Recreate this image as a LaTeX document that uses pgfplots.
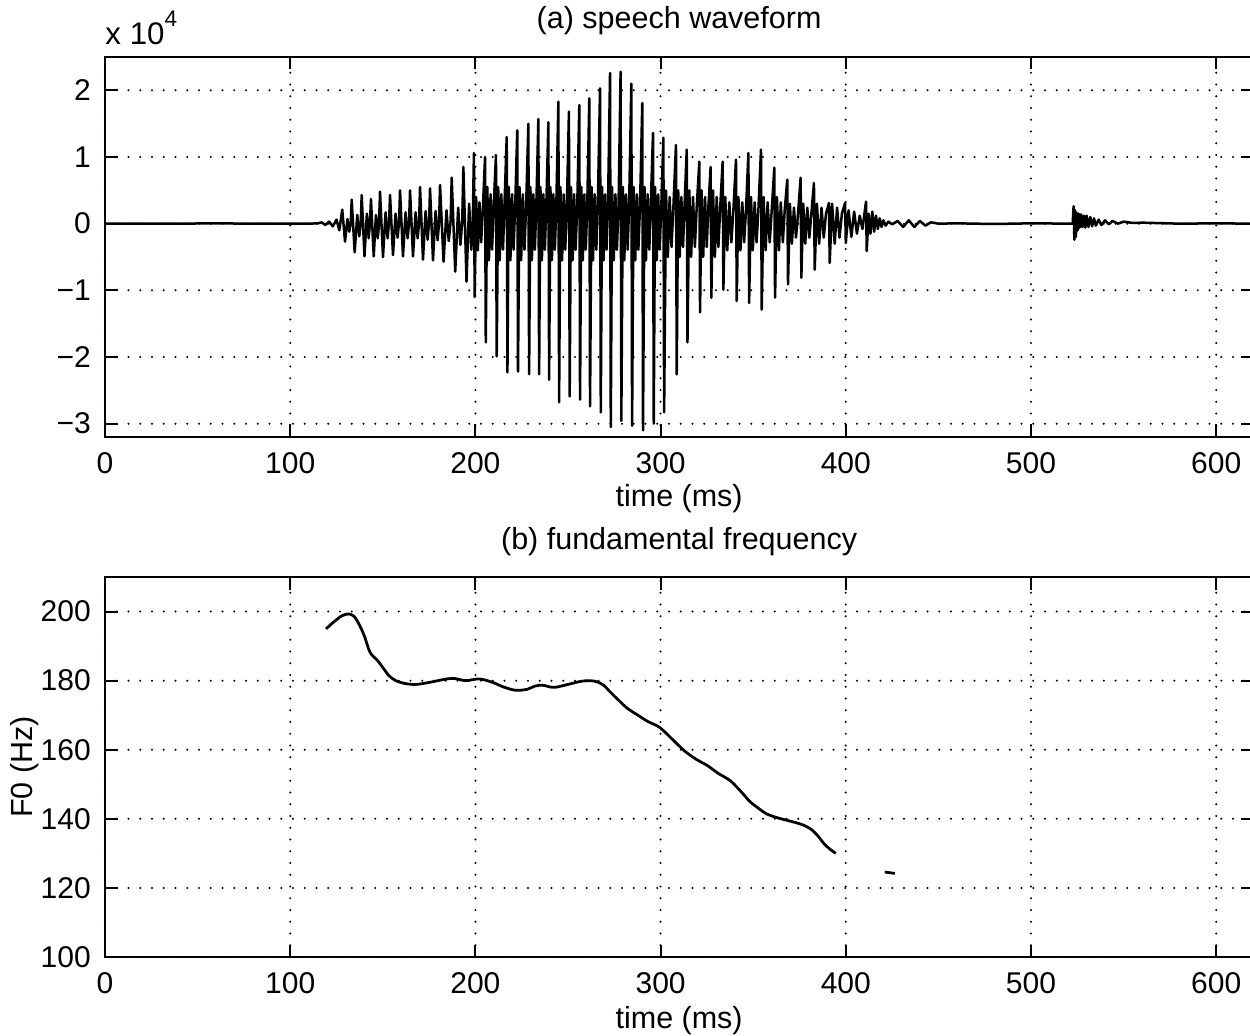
\documentclass[border=0pt]{standalone}
\usepackage{fontspec}
\setmainfont{Liberation Sans}
\usepackage{pgfplots}
\pgfplotsset{compat=1.18}
\pgfplotsset{
  matlab/.style={
    scale only axis, width=459.3pt, height=152pt,
    xmin=0, xmax=620,
    xtick={0,100,200,300,400,500,600},
    grid=major,
    major grid style={black, line width=0.9pt, line cap=round, dash pattern=on 0pt off 4.7pt},
    axis line style={black, line width=0.8pt},
    major tick length=5pt,
    tick style={black, line width=0.8pt},
    tick align=inside,
    /pgf/number format/assume math mode=true,
    ticklabel style={font=\fontsize{12}{14}\selectfont},
    xticklabel style={yshift=-2pt},
    yticklabel style={xshift=-1.5pt},
    label style={font=\fontsize{12.2}{14}\selectfont},
    title style={font=\fontsize{12.2}{14}\selectfont, at={(0.5,1)}, anchor=center},
    xlabel style={at={(axis description cs:0.5,0)}, anchor=center},
  }
}
\begin{document}
\fontsize{12}{14}\selectfont
\begin{tikzpicture}
\useasboundingbox (-42pt,-239.6pt) rectangle (458pt,174.8pt);
\begin{axis}[matlab, name=top, at={(0,0)}, anchor=south west,
  ymin=-3.2, ymax=2.5, ytick={-3,-2,-1,0,1,2},
  yticklabels={−3,−2,−1,0,1,2},
  title={(a) speech waveform}, title style={yshift=8.6pt},
  xlabel={time (ms)}, xlabel style={yshift=-24.8pt}]
\addplot[black, line width=1pt, line join=round] coordinates {
(0,0) (60,0.003) (110,0) (115,0.005) (117,0.02) (119,-0.02) (121,0.03) (123,-0.04) (125,0.06) (126.5,-0.1)
(128.1,0.21) (129.6,-0.27) (130.9,0.07) (131.9,-0.12) (132.7,0.02)
(133.2,0.36) (134.8,-0.43) (136.2,0.13) (137.3,-0.19) (138.1,0.03)
(138.6,0.43) (140.1,-0.49) (141.4,0.15) (142.4,-0.22) (143.1,0.03)
(143.6,0.37) (145.1,-0.49) (146.3,0.13) (147.3,-0.22) (148.0,0.03)
(148.5,0.48) (150.1,-0.50) (151.5,0.17) (152.6,-0.22) (153.4,0.03)
(153.9,0.43) (155.5,-0.47) (156.9,0.15) (158.0,-0.21) (158.8,0.03)
(159.3,0.50) (160.9,-0.49) (162.3,0.17) (163.4,-0.22) (164.2,0.03)
(164.7,0.50) (166.3,-0.49) (167.7,0.17) (168.8,-0.22) (169.6,0.03)
(170.1,0.55) (171.7,-0.54) (173.1,0.19) (174.2,-0.24) (175.0,0.03)
(175.5,0.53) (177.1,-0.55) (178.5,0.19) (179.6,-0.25) (180.4,0.03)
(180.9,0.58) (182.8,-0.57) (184.4,0.2) (185.6,-0.26) (186.6,0.03)
(187.2,0.69) (189.1,-0.72) (190.7,0.24) (191.9,-0.32) (192.9,0.04)
(193.5,0.85) (195.2,-0.87) (196.6,0.3) (197.8,-0.39) (198.6,0.05)
(199.2,1.06) (199.6,-1.10) (200.4,0.4) (201.3,-0.4) (202.2,0.32) (203.1,-0.28) (204.0,0.2)
(205.2,1.0) (205.6,-1.78) (206.4,0.55) (207.3,-0.55) (208.2,0.44) (209.0,-0.39) (209.9,0.28)
(211.1,1.03) (211.5,-1.99) (212.3,0.55) (213.1,-0.55) (214.0,0.44) (214.9,-0.39) (215.7,0.28)
(216.9,1.3) (217.3,-2.23) (218.0,0.55) (218.9,-0.55) (219.8,0.44) (220.6,-0.39) (221.5,0.28)
(222.6,1.4) (223.0,-2.22) (223.8,0.55) (224.7,-0.55) (225.6,0.44) (226.5,-0.39) (227.4,0.28)
(228.6,1.5) (229.0,-2.26) (229.7,0.55) (230.5,-0.55) (231.3,0.44) (232.1,-0.39) (232.9,0.28)
(234.0,1.57) (234.4,-2.26) (235.1,0.55) (235.9,-0.55) (236.7,0.44) (237.5,-0.39) (238.3,0.28)
(239.4,1.52) (239.8,-2.34) (240.5,0.55) (241.3,-0.55) (242.1,0.44) (242.9,-0.39) (243.7,0.28)
(244.8,1.83) (245.2,-2.68) (245.9,0.55) (246.8,-0.55) (247.7,0.44) (248.5,-0.39) (249.4,0.28)
(250.5,1.68) (250.9,-2.59) (251.6,0.55) (252.5,-0.55) (253.3,0.44) (254.1,-0.39) (255.0,0.28)
(256.1,1.78) (256.5,-2.64) (257.2,0.55) (258.0,-0.55) (258.8,0.44) (259.6,-0.39) (260.4,0.28)
(261.5,1.88) (261.9,-2.74) (262.7,0.55) (263.5,-0.55) (264.4,0.44) (265.3,-0.39) (266.1,0.28)
(267.3,2.03) (267.7,-2.83) (268.4,0.55) (269.2,-0.55) (270.0,0.44) (270.8,-0.39) (271.6,0.28)
(272.7,2.26) (273.1,-3.05) (273.8,0.55) (274.7,-0.55) (275.6,0.44) (276.4,-0.39) (277.3,0.28)
(278.4,2.28) (278.8,-2.96) (279.6,0.55) (280.4,-0.55) (281.3,0.44) (282.2,-0.39) (283.0,0.28)
(284.2,2.10) (284.6,-3.03) (285.4,0.55) (286.3,-0.55) (287.2,0.44) (288.0,-0.39) (288.9,0.28)
(290.1,1.81) (290.5,-3.10) (291.3,0.55) (292.1,-0.55) (293.0,0.44) (293.9,-0.39) (294.7,0.28)
(295.9,1.36) (296.3,-3.0) (297.0,0.55) (297.9,-0.55) (298.7,0.44) (299.5,-0.39) (300.4,0.28)
(301.5,1.29) (301.9,-2.83) (302.9,0.5) (303.9,-0.5) (304.9,0.4) (305.9,-0.35) (306.9,0.25)
(308.3,1.18) (308.7,-2.26) (309.5,0.5) (310.3,-0.5) (311.2,0.4) (312.1,-0.35) (312.9,0.25)
(314.1,1.11) (314.5,-1.78) (315.5,0.5) (316.5,-0.5) (317.5,0.4) (318.5,-0.35) (319.5,0.25)
(320.9,0.93) (321.3,-1.33) (322.1,0.5) (323.0,-0.5) (324.0,0.4) (324.9,-0.35) (325.8,0.25)
(327.0,0.85) (327.4,-1.11) (328.3,0.5) (329.3,-0.5) (330.3,0.4) (331.2,-0.35) (332.2,0.25)
(333.5,0.93) (333.9,-0.99) (334.9,0.4) (336.0,-0.4) (337.1,0.32) (338.2,-0.28) (339.3,0.2)
(340.7,0.96) (341.1,-1.16) (342.0,0.4) (343.1,-0.4) (344.1,0.32) (345.1,-0.28) (346.1,0.2)
(347.4,1.06) (347.8,-1.19) (348.8,0.4) (349.8,-0.4) (350.8,0.32) (351.8,-0.28) (352.8,0.2)
(354.2,1.11) (354.6,-1.29) (355.6,0.4) (356.7,-0.4) (357.8,0.32) (358.9,-0.28) (360.0,0.2)
(361.4,0.84) (361.8,-1.11) (362.8,0.4) (363.9,-0.4) (364.9,0.32) (366.0,-0.28) (367.0,0.2)
(368.4,0.66) (368.8,-0.91) (369.8,0.3) (370.9,-0.3) (372.0,0.24) (373.1,-0.21) (374.2,0.15)
(375.6,0.69) (376.0,-0.81) (377.0,0.3) (378.1,-0.3) (379.2,0.24) (380.3,-0.21) (381.4,0.15)
(382.8,0.61) (383.2,-0.69) (384.4,0.3) (385.6,-0.3) (386.9,0.24) (388.1,-0.21) (389.3,0.15)
(390.9,0.31) (391.3,-0.59) (392.6,0.3) (394.0,-0.3) (395.3,0.24) (396.6,-0.21) (397.9,0.15)
(399.6,0.31) (400.0,-0.29) (401.5,0.2) (403.0,-0.2) (404.5,0.18) (406.0,-0.15) (407.5,0.12) (409.0,-0.08)
(410.9,0.33) (411.3,-0.41) (412.3,0.15) (413.3,-0.15) (414.3,0.18) (415.3,-0.12) (416.3,0.12) (417.3,-0.08)
(418.3,0.08) (419.3,-0.05) (420.3,0.05) (421.5,-0.03) (423,0.03) (425,-0.01) (428,0.04) (431,-0.05)
(434,0.05) (437,-0.05) (440,0.04) (443,-0.03) (446,0.02) (450,0) (460,0.005) (480,-0.005) (500,0.005) (522.5,0)
(523,0.26) (523.4,-0.24) (523.8,0.2) (524.2,-0.2) (524.7,0.16) (525.2,-0.1) (525.7,0.15) (526.3,-0.06)
(527,0.14) (527.7,-0.05) (528.5,0.12) (529.3,-0.06) (530,0.12) (531,-0.05) (532,0.1) (533,-0.04)
(534,0.08) (535,-0.03) (536.5,0.06) (538,-0.02) (540,0.05) (542,-0.01) (544,0.04) (547,0.0)
(550,0.03) (555,0.01) (560,0.015) (580,0.0) (600,0.005) (620,0)
};
\end{axis}
\node[anchor=base west, inner sep=0pt, font=\fontsize{12.5}{14}\selectfont] at ([yshift=4.8pt]top.north west) {x 10\raisebox{1.1ex}{\fontsize{9}{10}\selectfont 4}};
\begin{axis}[matlab, name=bot, at={(0,-208pt)}, anchor=south west,
  ymin=100, ymax=210, ytick={100,120,140,160,180,200},
  title={(b) fundamental frequency}, title style={yshift=8pt},
  xlabel={time (ms)}, xlabel style={yshift=-25.6pt},
  ylabel={F0 (Hz)}, ylabel style={at={(axis description cs:-0.0697,0.5)}, anchor=center}]
\addplot[black, line width=1.1pt, smooth] coordinates {
(119.3,195.0) (124,197.2) (128,198.8) (131.7,199.3) (134.5,198.6) (137,196.5) (140.0,193.0) (143.1,188.2)
(147.2,185.8) (150,183.8) (153.4,181.4) (157,180.0) (161.7,179.2) (167.9,178.9) (176.2,179.6) (184.5,180.5)
(189,180.6) (194.8,180.0) (202.1,180.5) (209.3,179.5) (215,178.2) (221.7,177.2) (228.0,177.5) (232,178.4)
(236.2,178.7) (240,178.2) (243.5,178.1) (250.7,179.0) (257,179.8) (262.1,180.0) (266,179.6) (269.4,178.6)
(273,176.6) (277.6,174.2) (282,172.0) (288.0,169.9) (293,168.2) (299.4,166.5) (306,163.2) (312.8,159.7)
(319,157.3) (325.3,155.4) (331,153.2) (337.7,151.0) (343.9,147.6) (348,145.1) (352.2,143.3) (357,141.5)
(362.5,140.4) (368,139.6) (372.9,138.9) (377,138.2) (381.2,137.0) (385,135.0) (388.4,132.7) (391.5,131.2)
(394.6,130.0)
};
\addplot[black, line width=1.1pt] coordinates {(421,124.6) (426.5,124.2)};
\end{axis}
\end{tikzpicture}
\end{document}
